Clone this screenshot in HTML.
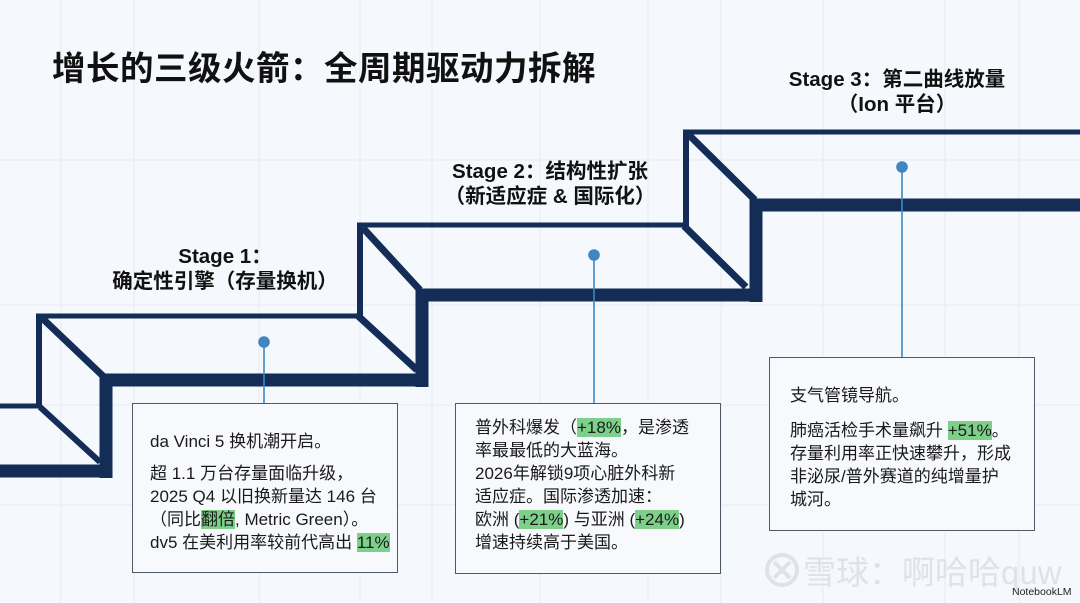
<!DOCTYPE html>
<html><head><meta charset="utf-8"><style>
html,body{margin:0;padding:0;background:#f5f8fc;}
body{width:1080px;height:603px;overflow:hidden;position:relative;font-family:"Liberation Sans","Noto Sans CJK SC",sans-serif;}
svg{position:absolute;left:0;top:0;}
.box{position:absolute;background:#f7f9fc;border:1.5px solid #4f5a66;box-sizing:border-box;color:#1a1a1a;font-size:17px;line-height:23px;}
.g{background:#7dd08a;}
.lbl{position:absolute;text-align:center;font-weight:bold;font-size:20.5px;line-height:25px;color:#111;}
</style></head><body>
<svg width="1080" height="603" viewBox="0 0 1080 603">
<g stroke="#e8ecf1" stroke-width="1">
<line x1="61" y1="0" x2="61" y2="603"/><line x1="134" y1="0" x2="134" y2="603"/><line x1="259" y1="0" x2="259" y2="603"/><line x1="360" y1="0" x2="360" y2="603"/><line x1="432" y1="0" x2="432" y2="603"/><line x1="540" y1="0" x2="540" y2="603"/><line x1="648" y1="0" x2="648" y2="603"/><line x1="721" y1="0" x2="721" y2="603"/><line x1="823" y1="0" x2="823" y2="603"/><line x1="945" y1="0" x2="945" y2="603"/><line x1="1019" y1="0" x2="1019" y2="603"/>
<line x1="0" y1="160" x2="1080" y2="160"/><line x1="0" y1="305" x2="1080" y2="305"/><line x1="0" y1="405" x2="1080" y2="405"/><line x1="0" y1="505" x2="1080" y2="505"/>
</g>
<g stroke="#142d57" fill="none" stroke-linecap="butt">
<line x1="0" y1="406" x2="39" y2="406" stroke-width="5"/>
<line x1="39" y1="314" x2="39" y2="408" stroke-width="6"/>
<line x1="40" y1="407" x2="100" y2="462" stroke-width="6"/>
<line x1="0" y1="471" x2="112" y2="471" stroke-width="13"/>
<line x1="106" y1="374" x2="106" y2="478" stroke-width="13"/>
<line x1="36" y1="316" x2="358" y2="316" stroke-width="5"/>
<line x1="42" y1="318" x2="104" y2="377" stroke-width="7"/>
<line x1="100" y1="380" x2="428" y2="380" stroke-width="13"/>
<line x1="356" y1="314" x2="417" y2="370" stroke-width="7"/>
<line x1="422" y1="289" x2="422" y2="387" stroke-width="13"/>
<line x1="360" y1="223" x2="360" y2="318" stroke-width="6"/>
<line x1="357" y1="225" x2="685" y2="225" stroke-width="5"/>
<line x1="363" y1="228" x2="420" y2="290" stroke-width="7"/>
<line x1="416" y1="295" x2="762" y2="295" stroke-width="13"/>
<line x1="684" y1="226" x2="746" y2="287" stroke-width="7"/>
<line x1="756" y1="199" x2="756" y2="302" stroke-width="13"/>
<line x1="686" y1="130" x2="686" y2="227" stroke-width="6"/>
<line x1="683" y1="132" x2="1080" y2="132" stroke-width="5"/>
<line x1="689" y1="135" x2="755" y2="200" stroke-width="7"/>
<line x1="750" y1="205" x2="1080" y2="205" stroke-width="13"/>
</g>
<g stroke="#3f86c3" stroke-width="1.6" fill="#3f86c3">
<line x1="264" y1="342" x2="264" y2="404"/><circle cx="264" cy="342" r="5"/>
<line x1="594" y1="255" x2="594" y2="404"/><circle cx="594" cy="255" r="5"/>
<line x1="902" y1="167" x2="902" y2="358"/><circle cx="902" cy="167" r="5"/>
</g>
<g fill="none" stroke="#dfe2e6" stroke-width="4"><circle cx="782" cy="570" r="15"/><path d="M774 562 L790 578 M790 562 L774 578"/></g>
<text x="803" y="584" font-family="Liberation Sans,Noto Sans CJK SC,sans-serif" font-size="33" fill="#dfe2e6">雪球：啊哈哈quw</text>
<text x="1012" y="595" font-family="Liberation Sans,sans-serif" font-size="10.5" fill="#222">NotebookLM</text>
</svg>
<div style="position:absolute;left:52px;top:41px;font-size:33.5px;font-weight:bold;color:#111;letter-spacing:0.5px;">增长的三级火箭：全周期驱动力拆解</div>
<div class="lbl" style="left:95px;top:244px;width:260px;">Stage 1：<br>确定性引擎（存量换机）</div>
<div class="lbl" style="left:410px;top:159px;width:280px;">Stage 2：结构性扩张<br>（新适应症 &amp; 国际化）</div>
<div class="lbl" style="left:757px;top:67px;width:280px;">Stage 3：第二曲线放量<br>（Ion 平台）</div>
<div class="box" style="left:132px;top:403px;width:266px;height:170px;padding:26px 0 0 17px;">da Vinci 5 换机潮开启。<div style="height:9px"></div>超 1.1 万台存量面临升级，<br>2025 Q4 以旧换新量达 146 台<br>（同比<span class="g">翻倍</span>, Metric Green）。<br>dv5 在美利用率较前代高出 <span class="g">11%</span></div>
<div class="box" style="left:455px;top:403px;width:266px;height:171px;padding:12px 0 0 19px;">普外科爆发（<span class="g">+18%</span>，是渗透<br>率最最低的大蓝海。<br>2026年解锁9项心脏外科新<br>适应症。国际渗透加速：<br>欧洲 (<span class="g">+21%</span>) 与亚洲 (<span class="g">+24%</span>)<br>增速持续高于美国。</div>
<div class="box" style="left:769px;top:357px;width:266px;height:174px;padding:26px 0 0 20px;">支气管镜导航。<div style="height:12px"></div>肺癌活检手术量飙升 <span class="g">+51%</span>。<br>存量利用率正快速攀升，形成<br>非泌尿/普外赛道的纯增量护<br>城河。</div>
</body></html>
